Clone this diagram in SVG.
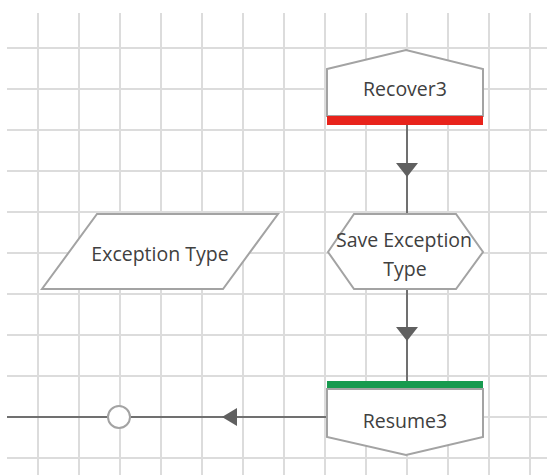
<svg xmlns="http://www.w3.org/2000/svg" width="547" height="475" viewBox="0 0 547 475">
<style>
.grid line{stroke:#dcdcdc;stroke-width:2}
.node{fill:#fff;stroke:#a3a3a3;stroke-width:2}
.lbl{font-family:"Open Sans","Noto Sans",sans-serif;font-size:19.5px;fill:#404040;text-anchor:middle;dominant-baseline:central}
.conn{stroke:#707070;stroke-width:2;fill:none}
.head{fill:#606060}
</style>
<rect width="547" height="475" fill="#fff"/>
<g class="grid">
<line x1="38" y1="13" x2="38" y2="475"/><line x1="79" y1="13" x2="79" y2="475"/><line x1="120" y1="13" x2="120" y2="475"/><line x1="161" y1="13" x2="161" y2="475"/><line x1="202" y1="13" x2="202" y2="475"/><line x1="243" y1="13" x2="243" y2="475"/><line x1="284" y1="13" x2="284" y2="475"/><line x1="325" y1="13" x2="325" y2="475"/><line x1="366" y1="13" x2="366" y2="475"/><line x1="407" y1="13" x2="407" y2="475"/><line x1="448" y1="13" x2="448" y2="475"/><line x1="489" y1="13" x2="489" y2="475"/><line x1="530" y1="13" x2="530" y2="475"/>
<line x1="7" y1="48" x2="547" y2="48"/><line x1="7" y1="89" x2="547" y2="89"/><line x1="7" y1="130" x2="547" y2="130"/><line x1="7" y1="171" x2="547" y2="171"/><line x1="7" y1="212" x2="547" y2="212"/><line x1="7" y1="253" x2="547" y2="253"/><line x1="7" y1="294" x2="547" y2="294"/><line x1="7" y1="335" x2="547" y2="335"/><line x1="7" y1="376" x2="547" y2="376"/><line x1="7" y1="417" x2="547" y2="417"/><line x1="7" y1="458" x2="547" y2="458"/>
</g>
<g id="connectors">
<line class="conn" x1="407" y1="125" x2="407" y2="214"/>
<polygon class="head" points="396,163 418,163 407,177"/>
<line class="conn" x1="407" y1="289" x2="407" y2="381"/>
<polygon class="head" points="396,327 418,327 407,341"/>
<line class="conn" x1="327" y1="417" x2="7" y2="417"/>
<polygon class="head" points="222,417 237,408 237,426"/>
<circle cx="119" cy="417" r="11" fill="#fff" stroke="#a3a3a3" stroke-width="2"/>
</g>
<g id="recover3">
<path class="node" d="M327,69 L406,50 L483,69 L483,116 L327,116 Z"/>
<rect x="327" y="116" width="156" height="9" fill="#e8231b"/>
<text class="lbl" x="405" y="88">Recover3</text>
</g>
<g id="save-exception-type">
<polygon class="node" points="328,252 354,214 456,214 483,252 456,289 354,289"/>
<text class="lbl" x="404" y="239">Save Exception</text>
<text class="lbl" x="405" y="268">Type</text>
</g>
<g id="exception-type">
<polygon class="node" points="97,214 278,214 223,289 42,289"/>
<text class="lbl" x="160" y="253">Exception Type</text>
</g>
<g id="resume3">
<rect x="327" y="381" width="156" height="8" fill="#179a4f"/>
<path class="node" d="M327,389 L483,389 L483,437 L406,455 L327,437 Z"/>
<text class="lbl" x="405" y="420">Resume3</text>
</g>
</svg>
